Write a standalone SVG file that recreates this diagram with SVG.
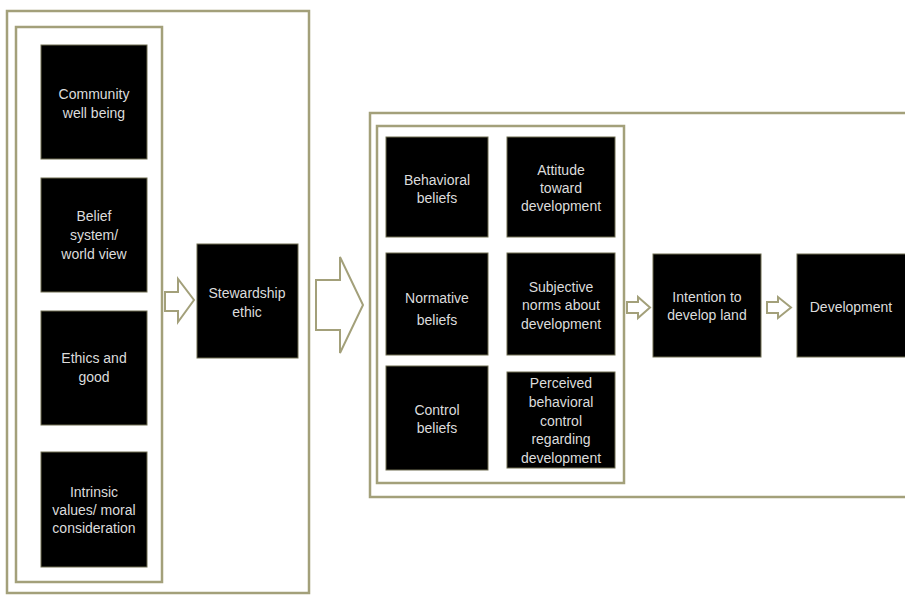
<svg xmlns="http://www.w3.org/2000/svg" width="905" height="595" viewBox="0 0 905 595">
<style>
.frame{fill:none;stroke:#a3a07a;stroke-width:2.5}
.box{fill:#000;stroke:#6e6c50;stroke-width:1}
.t{font-family:"Liberation Sans",Arial,sans-serif;font-size:14px;fill:#dcdcdc;text-anchor:middle}
.arr{fill:#fff;stroke:#a3a07a;stroke-width:2;stroke-linejoin:miter}
</style>
<rect width="905" height="595" fill="#fff"/>
<g id="frames">
<rect class="frame" x="7" y="11" width="302" height="582"/>
<rect class="frame" x="16" y="27" width="146" height="555"/>
<rect class="frame" x="370" y="113" width="545" height="384"/>
<rect class="frame" x="377" y="126" width="247" height="357"/>
</g>
<g id="n-community"><rect class="box" x="41" y="45" width="106" height="114"/>
<text class="t" x="94" y="99">Community</text><text class="t" x="94" y="118">well being</text></g>
<g id="n-belief"><rect class="box" x="41" y="178" width="106" height="114"/>
<text class="t" x="94" y="221">Belief</text><text class="t" x="94" y="240">system/</text><text class="t" x="94" y="259">world view</text></g>
<g id="n-ethics"><rect class="box" x="41" y="311" width="106" height="114"/>
<text class="t" x="94" y="363">Ethics and</text><text class="t" x="94" y="382">good</text></g>
<g id="n-intrinsic"><rect class="box" x="41" y="452" width="106" height="115"/>
<text class="t" x="94" y="497">Intrinsic</text><text class="t" x="94" y="515">values/ moral</text><text class="t" x="94" y="533">consideration</text></g>
<g id="n-stewardship"><rect class="box" x="197" y="244" width="101" height="114"/>
<text class="t" x="247" y="298">Stewardship</text><text class="t" x="247" y="317">ethic</text></g>
<g id="n-behavioral"><rect class="box" x="386" y="137" width="102" height="100"/>
<text class="t" x="437" y="185">Behavioral</text><text class="t" x="437" y="203">beliefs</text></g>
<g id="n-attitude"><rect class="box" x="507" y="137" width="108" height="100"/>
<text class="t" x="561" y="175">Attitude</text><text class="t" x="561" y="193">toward</text><text class="t" x="561" y="211">development</text></g>
<g id="n-normative"><rect class="box" x="386" y="253" width="102" height="102"/>
<text class="t" x="437" y="303">Normative</text><text class="t" x="437" y="325">beliefs</text></g>
<g id="n-subjective"><rect class="box" x="507" y="253" width="108" height="102"/>
<text class="t" x="561" y="292">Subjective</text><text class="t" x="561" y="310">norms about</text><text class="t" x="561" y="329">development</text></g>
<g id="n-control"><rect class="box" x="386" y="366" width="102" height="104"/>
<text class="t" x="437" y="415">Control</text><text class="t" x="437" y="433">beliefs</text></g>
<g id="n-perceived"><rect class="box" x="507" y="372" width="108" height="96"/>
<text class="t" x="561" y="388">Perceived</text><text class="t" x="561" y="407">behavioral</text><text class="t" x="561" y="426">control</text><text class="t" x="561" y="444">regarding</text><text class="t" x="561" y="463">development</text></g>
<g id="n-intention"><rect class="box" x="653" y="254" width="108" height="103"/>
<text class="t" x="707" y="302">Intention to</text><text class="t" x="707" y="320">develop land</text></g>
<g id="n-development"><rect class="box" x="797" y="254" width="112" height="103"/>
<text class="t" x="851" y="312">Development</text></g>
<g id="connectors">
<polygon class="arr" points="165,292 178,292 178,279 194,300 178,322 178,311 165,311"/>
<polygon class="arr" points="316,280 340,280 340,257 363,305 340,353 340,330 316,330"/>
<polygon class="arr" points="627,302 638,302 638,297 650,307.5 638,318 638,313 627,313"/>
<polygon class="arr" points="767,302 778,302 778,297 791,307.5 778,318 778,313 767,313"/>
</g>
</svg>
